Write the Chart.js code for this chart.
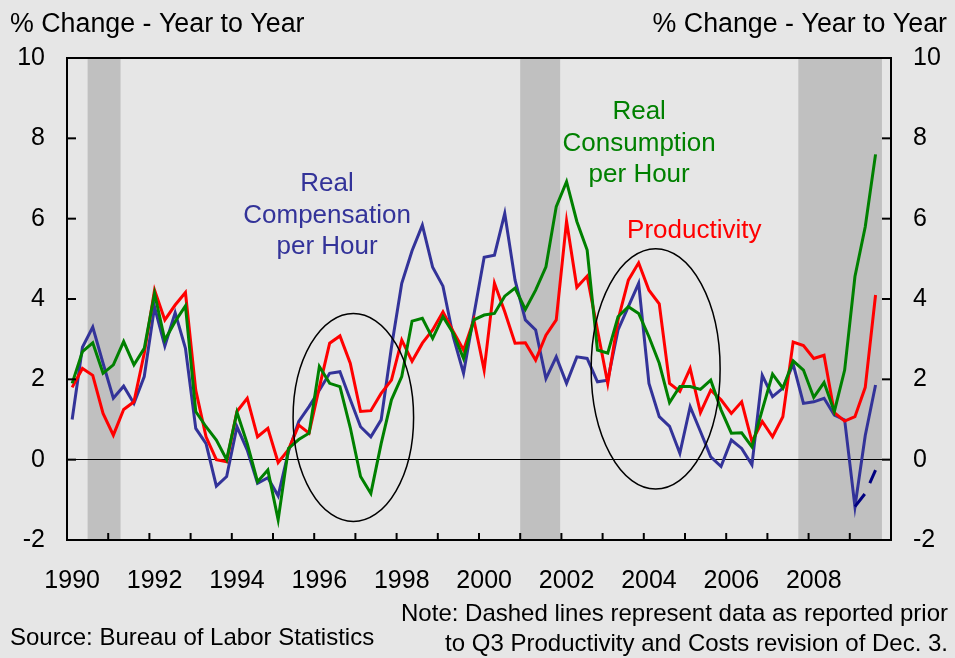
<!DOCTYPE html>
<html>
<head>
<meta charset="utf-8">
<script src="https://cdn.jsdelivr.net/npm/chart.js@4.4.0/dist/chart.umd.min.js"></script>
<style>
  html, body { margin: 0; padding: 0; background: #e6e6e6; }
  canvas { display: block; }
</style>
</head>
<body>
<canvas id="chart" width="955" height="658"></canvas>
<script>
// quarterly categories 1990Q1 .. 2009Q4 (data runs to 2009Q3)
const quarters = [];
for (let yr = 1990; yr <= 2009; yr++) ['Q1', 'Q2', 'Q3', 'Q4'].forEach(q => quarters.push(yr + q));

const compensation = [
  1.0, 2.8, 3.3, 2.4, 1.53, 1.83, 1.4, 2.07,
  3.8, 2.83, 3.66, 2.77, 0.78, 0.4, -0.66, -0.42,
  0.82, 0.24, -0.59, -0.45, -0.9, 0.2, 0.95, 1.32,
  1.73, 2.15, 2.19, 1.5, 0.82, 0.57, 0.99, 2.8,
  4.39, 5.2, 5.84, 4.79, 4.32, 3.06, 2.15, 3.6,
  5.04, 5.09, 6.13, 4.47, 3.48, 3.23, 2.02, 2.56,
  1.9, 2.56, 2.52, 1.94, 1.98, 3.23, 3.81, 4.39,
  1.9, 1.07, 0.83, 0.16, 1.32, 0.7, 0.07, -0.17,
  0.49, 0.28, -0.13, 2.1, 1.57, 1.78, 2.38, 1.4,
  1.44, 1.53, 1.11, 0.99, -1.17, 0.6, 1.86
];
const productivity = [
  1.8, 2.27, 2.1, 1.15, 0.61, 1.25, 1.44, 2.65,
  4.22, 3.48, 3.85, 4.16, 1.73, 0.57, 0.0, -0.05,
  1.2, 1.53, 0.57, 0.78, -0.07, 0.25, 0.86, 0.66,
  1.8, 2.9, 3.08, 2.4, 1.2, 1.22, 1.65, 1.98,
  2.98, 2.45, 2.9, 3.23, 3.68, 3.19, 2.73, 3.48,
  2.23, 4.39, 3.68, 2.9, 2.91, 2.48, 3.1, 3.48,
  5.94, 4.29, 4.57, 3.23, 1.9, 3.48, 4.47, 4.9,
  4.22, 3.88, 1.9, 1.7, 2.27, 1.17, 1.73, 1.49,
  1.15, 1.44, 0.45, 0.95, 0.57, 1.07, 2.93, 2.84,
  2.52, 2.6, 1.17, 0.96, 1.07, 1.8, 4.1
];
const consumption = [
  1.9, 2.69, 2.91, 2.15, 2.36, 2.94, 2.36, 2.77,
  4.14, 2.98, 3.44, 3.83, 1.2, 0.82, 0.49, 0.0,
  1.18, 0.4, -0.55, -0.26, -1.5, 0.28, 0.5, 0.66,
  2.32, 1.9, 1.82, 0.8, -0.42, -0.84, 0.4, 1.49,
  2.07, 3.45, 3.52, 3.02, 3.56, 3.15, 2.52, 3.48,
  3.6, 3.64, 4.07, 4.27, 3.74, 4.22, 4.8, 6.3,
  6.92, 5.93, 5.22, 2.73, 2.65, 3.56, 3.81, 3.64,
  3.06, 2.4, 1.42, 1.82, 1.82, 1.75, 1.98, 1.24,
  0.66, 0.67, 0.32, 1.24, 2.13, 1.78, 2.46, 2.23,
  1.55, 1.92, 1.2, 2.23, 4.56, 5.8, 7.6
];
// compensation as reported before the Q3 revision (2009Q1..Q3)
const compensationPrior = [-1.17, -0.84, -0.26];
const priorFrom = '2009Q1';

const yearLabels = ['1990', '1992', '1994', '1996', '1998', '2000', '2002', '2004', '2006', '2008'];
const yTicks = [-2, 0, 2, 4, 6, 8, 10];
// recession shading, in fractional years
const recessions = [[1990.5, 1991.3], [2001.0, 2001.97], [2007.75, 2009.78]];

const FONT = "'Liberation Sans', Arial, sans-serif";
Chart.defaults.font.family = FONT;
Chart.defaults.color = '#000';

const yearToIdx = yr => (yr - 1990) * 4 - 0.5;
const pts = (arr, from) => arr.map((v, i) => ({ x: from + i, y: v }));

const decor = {
  id: 'decor',
  beforeDraw(chart) {
    const { ctx, chartArea: a, scales: { x } } = chart;
    ctx.save();
    ctx.fillStyle = '#e6e6e6';
    ctx.fillRect(0, 0, chart.width, chart.height);
    ctx.fillStyle = '#c0c0c0';
    recessions.forEach(([s, e]) => {
      const x0 = x.getPixelForValue(yearToIdx(s));
      const x1 = x.getPixelForValue(yearToIdx(e));
      ctx.fillRect(x0, a.top, x1 - x0, a.bottom - a.top);
    });
    ctx.restore();
  },
  afterDatasetsDraw(chart) {
    const { ctx, scales: { x, y } } = chart;
    ctx.save();
    // circled periods
    ctx.strokeStyle = '#000';
    ctx.lineWidth = 1.5;
    [[27.3, 1.05, 5.85, 2.59], [56.65, 2.26, 6.26, 2.99]].forEach(([cx, cy, rx, ry]) => {
      const px = x.getPixelForValue(cx), py = y.getPixelForValue(cy);
      const w = x.getPixelForValue(cx + rx) - px, h = y.getPixelForValue(cy - ry) - py;
      ctx.beginPath();
      ctx.ellipse(px, py, w, h, 0, 0, Math.PI * 2);
      ctx.stroke();
    });
    // series labels
    ctx.font = '26px ' + FONT;
    ctx.textAlign = 'center';
    ctx.textBaseline = 'middle';
    const notes = [
      { lines: ['Real', 'Compensation', 'per Hour'], color: '#333399', at: [24.75, 6.86] },
      { lines: ['Real', 'Consumption', 'per Hour'], color: '#008000', at: [55.05, 8.65] },
      { lines: ['Productivity'], color: '#ff0000', at: [60.4, 5.69] }
    ];
    notes.forEach(n => {
      ctx.fillStyle = n.color;
      const px = x.getPixelForValue(n.at[0]), py = y.getPixelForValue(n.at[1]);
      n.lines.forEach((t, i) => ctx.fillText(t, px, py + i * 31.5));
    });
    ctx.restore();
  },
  afterDraw(chart) {
    const { ctx, chartArea: a, scales: { x, y } } = chart;
    ctx.save();
    ctx.strokeStyle = '#000';
    ctx.lineWidth = 2;
    ctx.strokeRect(a.left, a.top, a.right - a.left, a.bottom - a.top);
    const line = (x0, y0, x1, y1) => { ctx.beginPath(); ctx.moveTo(x0, y0); ctx.lineTo(x1, y1); ctx.stroke(); };
    yTicks.forEach(v => {
      const py = y.getPixelForValue(v);
      line(a.left, py, a.left + 9, py);
      line(a.right - 9, py, a.right, py);
    });
    for (let yr = 1991; yr <= 2009; yr++) {
      const px = x.getPixelForValue(yearToIdx(yr));
      line(px, a.bottom - 7, px, a.bottom);
    }

    ctx.fillStyle = '#000';
    ctx.textBaseline = 'alphabetic';
    ctx.font = '26.8px ' + FONT;
    ctx.textAlign = 'left';
    ctx.fillText('% Change - Year to Year', 10, 32);
    ctx.textAlign = 'right';
    ctx.fillText('% Change - Year to Year', 947, 32);

    ctx.font = '24px ' + FONT;
    ctx.textAlign = 'left';
    ctx.fillText('Source: Bureau of Labor Statistics', 10, 645);
    ctx.textAlign = 'right';
    ctx.fillText('Note: Dashed lines represent data as reported prior', 948, 621);
    ctx.fillText('to Q3 Productivity and Costs revision of Dec. 3.', 948, 651);
    ctx.restore();
  }
};

const yAxis = (pos, width) => ({
  position: pos,
  min: -2,
  max: 10,
  afterBuildTicks: s => { s.ticks = yTicks.map(v => ({ value: v })); },
  ticks: { font: { size: 25 }, padding: 22, color: '#000' },
  grid: pos === 'left'
    ? { drawTicks: false, lineWidth: 1, color: c => (c.tick && c.tick.value === 0) ? '#000' : 'rgba(0,0,0,0)' }
    : { display: false, drawTicks: false },
  border: { display: false },
  afterFit: s => { s.width = width; }
});

new Chart(document.getElementById('chart'), {
  type: 'line',
  data: {
    datasets: [
      { label: 'Prior', data: pts(compensationPrior, quarters.indexOf(priorFrom)), borderColor: '#000080', borderDash: [16, 12] },
      { label: 'Real Consumption per Hour', data: pts(consumption, 0), borderColor: '#008000' },
      { label: 'Productivity', data: pts(productivity, 0), borderColor: '#ff0000' },
      { label: 'Real Compensation per Hour', data: pts(compensation, 0), borderColor: '#333399' }
    ]
  },
  options: {
    responsive: false,
    animation: false,
    devicePixelRatio: 1,
    layout: { padding: { top: 58, left: 0, right: 0, bottom: 0 } },
    elements: {
      line: { borderWidth: 3, tension: 0, fill: false },
      point: { radius: 0 }
    },
    plugins: { legend: { display: false }, tooltip: { enabled: false } },
    scales: {
      x: {
        type: 'linear',
        min: -0.5,
        max: quarters.length - 0.5,
        afterBuildTicks: s => { s.ticks = yearLabels.map(t => ({ value: (Number(t) - 1990) * 4 })); },
        ticks: { font: { size: 25 }, padding: 26, color: '#000', maxRotation: 0, autoSkip: false,
                 callback: (v, i) => yearLabels[i] },
        grid: { display: false, drawTicks: false },
        border: { display: false },
        afterFit: s => { s.height = 118; }
      },
      y: yAxis('left', 67),
      y2: yAxis('right', 64)
    }
  },
  plugins: [decor]
});
</script>
</body>
</html>
